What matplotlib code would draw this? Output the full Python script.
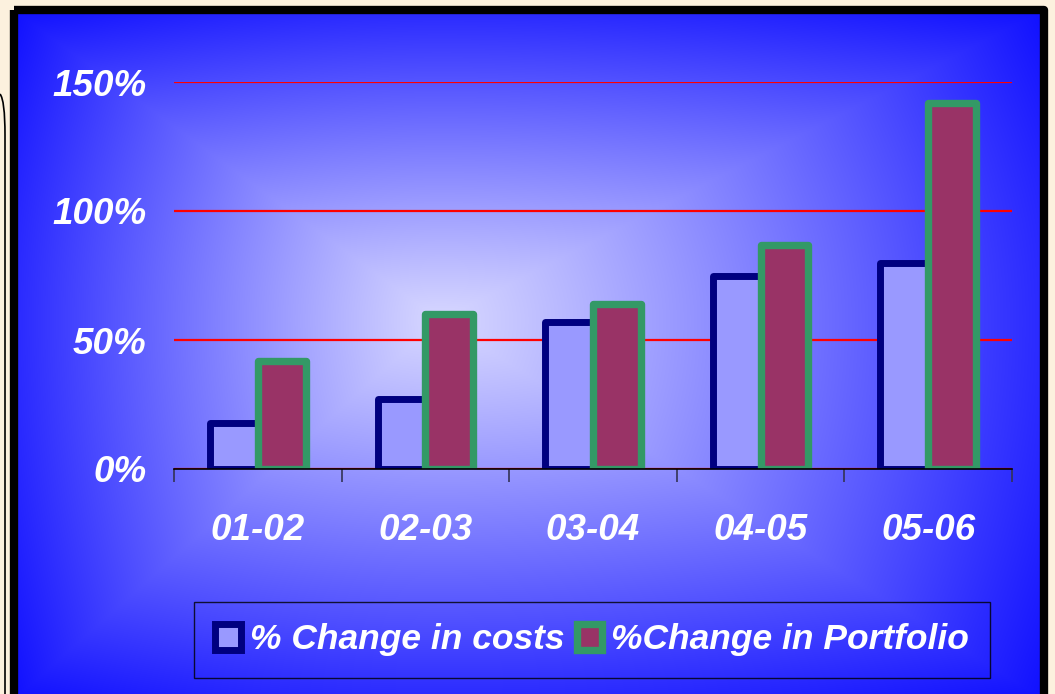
import numpy as np
import matplotlib
matplotlib.use("Agg")
import matplotlib.pyplot as plt
from matplotlib.patches import Rectangle
from matplotlib.path import Path
from matplotlib.patches import PathPatch

# data
periods = ["01-02", "02-03", "03-04", "04-05", "05-06"]
cost_change = [18, 27, 57, 75, 80]
portfolio_change = [42, 60, 64, 87, 142]
y_ticks = [0, 50, 100, 150]
y_labels = ["0%", "50%", "100%", "150%"]

W, H = 1055, 694
fnt = ["Liberation Sans", "DejaVu Sans"]

fig = plt.figure(figsize=(W / 100, H / 100), dpi=100, facecolor="#FCF1DE")

# background panel with gradient (pixel coords)
bg = fig.add_axes([0, 0, 1, 1])
bg.set_xlim(0, W)
bg.set_ylim(H, 0)
bg.axis("off")

x0, x1, y0, y1 = 14, 1044, 10, 700
cx, cy = 440, 320
xs = np.linspace(x0, x1, 600)
ys = np.linspace(y0, y1, 400)
X, Y = np.meshgrid(xs, ys)
tx = np.where(X < cx, (cx - X) / (cx - x0), (X - cx) / (x1 - cx))
ty = np.where(Y < cy, (cy - Y) / (cy - y0), (Y - cy) / (y1 - cy))
t_rect = np.maximum(tx, ty)
t_ell = np.sqrt(tx ** 2 + ty ** 2) / np.sqrt(2)
t = np.clip(0.6 * t_rect + 0.4 * t_ell, 0, 1) ** 1.1
c_in = np.array([215, 215, 255]) / 255
c_out = np.array([16, 16, 255]) / 255
img = c_in[None, None, :] * (1 - t[..., None]) + c_out[None, None, :] * t[..., None]
bg.imshow(img, extent=(x0, x1, y1, y0), aspect="auto", interpolation="bilinear")
bg.add_patch(Rectangle((x0, y0), x1 - x0, y1 - y0, fill=False, ec="black",
                       lw=6, joinstyle="round"))

# curved line at left edge
verts = [(0, 94), (5, 100), (5, 135), (5, 694)]
codes = [Path.MOVETO, Path.CURVE3, Path.CURVE3, Path.LINETO]
bg.add_patch(PathPatch(Path(verts, codes), fill=False, ec="black", lw=1.2))

# main chart
ax = fig.add_axes([174 / W, 1 - 469 / H, (1012 - 174) / W, (469 - 82) / H])
ax.set_facecolor("none")
x = np.arange(len(periods))
bw = 0.2857
ax.bar(x - bw / 2, cost_change, bw, color="#9999FF", edgecolor="#000080",
       linewidth=5, joinstyle="round", zorder=3, label="% Change in costs")
ax.bar(x + bw / 2, portfolio_change, bw, color="#993366", edgecolor="#339966",
       linewidth=5.3, joinstyle="round", zorder=4, label="%Change in Portfolio")

ax.set_xlim(-0.5, len(periods) - 0.5)
ax.set_ylim(0, 150)
ax.set_yticks(y_ticks)
ax.set_yticklabels(y_labels)
ax.yaxis.grid(True, color="red", linewidth=1.6, zorder=1)
ax.set_axisbelow(True)

for s in ["left", "top", "right"]:
    ax.spines[s].set_visible(False)
ax.spines["bottom"].set_color("black")
ax.spines["bottom"].set_linewidth(1.2)
ax.spines["bottom"].set_zorder(5)

ax.set_xticks(x)
ax.set_xticklabels(periods)
ax.set_xticks(np.arange(len(periods) + 1) - 0.5, minor=True)
ax.tick_params(axis="x", which="major", length=0, pad=32)
ax.tick_params(axis="x", which="minor", length=9.5, width=1.2, color="#333355")
ax.tick_params(axis="y", length=0, pad=20)

for lab in ax.get_xticklabels() + ax.get_yticklabels():
    lab.set_family(fnt)
    lab.set_fontsize(26.5)
    lab.set_fontweight("bold")
    lab.set_fontstyle("italic")
    lab.set_color("white")

leg = ax.legend(loc="center", bbox_to_anchor=(592 / W, 1 - 640 / H),
                bbox_transform=fig.transFigure, ncol=2, frameon=True,
                fancybox=False, edgecolor="black", facecolor="none",
                handlelength=0.72, handleheight=0.72, handletextpad=0.25,
                columnspacing=0.35, borderpad=0.6, borderaxespad=0,
                prop={"family": fnt, "size": 25.5, "weight": "bold", "style": "italic"})
leg.get_frame().set_linewidth(1.0)
for txt in leg.get_texts():
    txt.set_color("white")

fig.savefig("out.png", dpi=100, facecolor=fig.get_facecolor())
